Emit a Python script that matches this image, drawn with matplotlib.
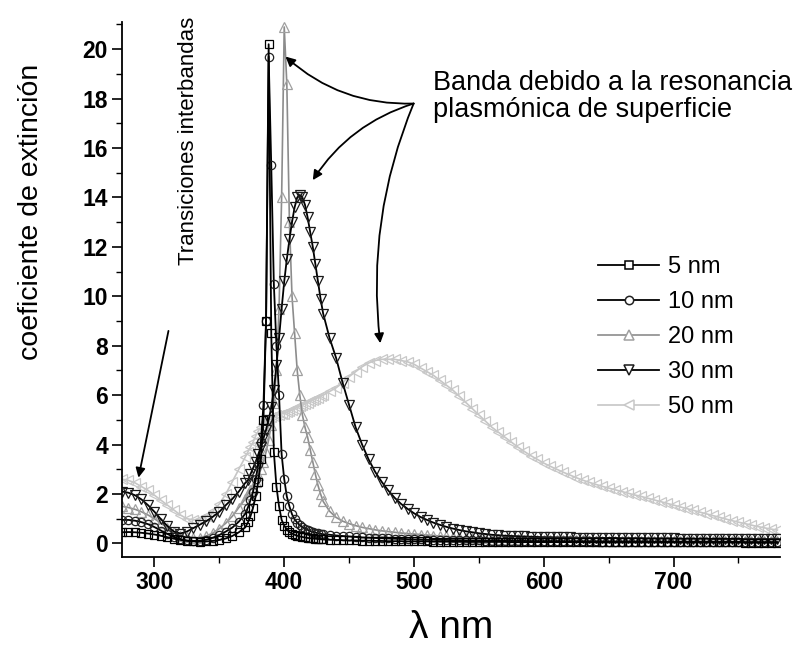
import matplotlib
matplotlib.use("Agg")
import matplotlib.pyplot as plt
from matplotlib.ticker import MultipleLocator
from matplotlib.lines import Line2D
from matplotlib.legend_handler import HandlerLine2D

plt.rcParams['font.family'] = ['Liberation Sans', 'DejaVu Sans']

# Wavelength sampling grid (nm)
wavelength = list(range(275, 371, 5)) + list(range(372, 431, 2)) + list(range(435, 781, 5))

ext_5nm = [0.45, 0.46, 0.45, 0.43, 0.40, 0.36, 0.31, 0.25, 0.19, 0.14, 0.10, 0.08, 0.07, 0.08, 0.10, 0.14, 0.20, 0.30, 0.45, 0.65,
           0.85, 1.10, 1.45, 1.90, 2.50, 3.40, 5.00, 9.00, 20.20, 8.50, 3.70, 2.30, 1.50, 0.95, 0.72, 0.56, 0.46, 0.40, 0.35, 0.31,
           0.28, 0.26, 0.24, 0.22, 0.21, 0.20, 0.19, 0.18, 0.17, 0.16,
           0.15, 0.14, 0.13, 0.12, 0.12, 0.11, 0.11, 0.10, 0.10, 0.09,
           0.09, 0.09, 0.08, 0.08, 0.08, 0.08, 0.07, 0.07, 0.07, 0.07,
           0.07, 0.06, 0.06, 0.06, 0.06, 0.06, 0.06, 0.06, 0.05, 0.05,
           0.05, 0.05, 0.05, 0.05, 0.05, 0.05, 0.05, 0.05, 0.05, 0.05,
           0.04, 0.04, 0.04, 0.04, 0.04, 0.04, 0.04, 0.04, 0.04, 0.04,
           0.04, 0.04, 0.04, 0.04, 0.04, 0.04, 0.04, 0.04, 0.04, 0.04,
           0.04, 0.04, 0.04, 0.04, 0.03, 0.03, 0.03, 0.03, 0.03, 0.03]

ext_10nm = [0.95, 0.95, 0.92, 0.86, 0.78, 0.66, 0.52, 0.38, 0.26, 0.17, 0.12, 0.10, 0.11, 0.15, 0.23, 0.34, 0.48, 0.64, 0.88, 1.20,
            1.45, 1.75, 2.10, 2.60, 3.20, 4.10, 5.60, 9.00, 19.70, 15.30, 10.50, 8.00, 6.00, 3.60, 2.60, 1.90, 1.50, 1.18, 0.98, 0.84,
            0.74, 0.66, 0.60, 0.55, 0.50, 0.47, 0.44, 0.41, 0.39, 0.37,
            0.35, 0.32, 0.30, 0.28, 0.26, 0.24, 0.23, 0.22, 0.21, 0.20,
            0.19, 0.18, 0.17, 0.16, 0.16, 0.15, 0.15, 0.14, 0.14, 0.13,
            0.13, 0.12, 0.12, 0.12, 0.11, 0.11, 0.11, 0.10, 0.10, 0.10,
            0.10, 0.09, 0.09, 0.09, 0.09, 0.09, 0.08, 0.08, 0.08, 0.08,
            0.08, 0.08, 0.07, 0.07, 0.07, 0.07, 0.07, 0.07, 0.07, 0.07,
            0.06, 0.06, 0.06, 0.06, 0.06, 0.06, 0.06, 0.06, 0.06, 0.06,
            0.06, 0.06, 0.06, 0.06, 0.05, 0.05, 0.05, 0.05, 0.05, 0.05]

ext_20nm = [1.50, 1.45, 1.38, 1.28, 1.15, 1.00, 0.82, 0.62, 0.45, 0.32, 0.24, 0.21, 0.23, 0.30, 0.42, 0.60, 0.82, 1.10, 1.45, 1.80,
            2.00, 2.15, 2.30, 2.50, 2.75, 3.00, 3.30, 3.70, 4.20, 4.80, 5.70, 7.00, 9.50, 14.00, 20.90, 18.60, 13.00, 10.00, 8.50, 7.00,
            6.00, 5.20, 4.70, 4.30, 3.80, 3.30, 2.80, 2.35, 2.00, 1.70,
            1.30, 1.05, 0.90, 0.80, 0.72, 0.65, 0.60, 0.55, 0.51, 0.48,
            0.45, 0.42, 0.40, 0.38, 0.36, 0.34, 0.32, 0.30, 0.28, 0.26,
            0.24, 0.23, 0.22, 0.21, 0.20, 0.19, 0.18, 0.17, 0.16, 0.16,
            0.15, 0.15, 0.14, 0.14, 0.13, 0.13, 0.13, 0.12, 0.12, 0.12,
            0.11, 0.11, 0.11, 0.11, 0.10, 0.10, 0.10, 0.10, 0.10, 0.10,
            0.09, 0.09, 0.09, 0.09, 0.09, 0.09, 0.09, 0.09, 0.09, 0.09,
            0.09, 0.09, 0.08, 0.08, 0.08, 0.08, 0.08, 0.08, 0.08, 0.08]

ext_30nm = [2.10, 2.05, 1.95, 1.78, 1.55, 1.28, 0.98, 0.70, 0.48, 0.40, 0.48, 0.62, 0.76, 0.90, 1.08, 1.28, 1.55, 1.80, 2.10, 2.45,
            2.55, 2.80, 3.05, 3.30, 3.60, 3.90, 4.25, 4.60, 5.00, 5.50, 6.20, 7.20, 8.30, 9.50, 10.60, 11.50, 12.30, 13.00, 13.60, 14.00,
            14.10, 14.00, 13.70, 13.20, 12.60, 12.00, 11.30, 10.60, 9.90, 9.30,
            8.30, 7.50, 6.50, 5.60, 4.70, 4.00, 3.40, 2.90, 2.50, 2.15,
            1.85, 1.60, 1.40, 1.22, 1.07, 0.95, 0.84, 0.75, 0.67, 0.60,
            0.54, 0.49, 0.45, 0.41, 0.38, 0.35, 0.33, 0.31, 0.30, 0.29,
            0.28, 0.27, 0.26, 0.25, 0.25, 0.24, 0.24, 0.24, 0.23, 0.23,
            0.23, 0.22, 0.22, 0.22, 0.22, 0.21, 0.21, 0.21, 0.21, 0.20,
            0.20, 0.20, 0.20, 0.20, 0.19, 0.19, 0.19, 0.19, 0.19, 0.18,
            0.18, 0.18, 0.18, 0.18, 0.17, 0.17, 0.17, 0.17, 0.17, 0.17]

ext_50nm = [2.60, 2.55, 2.45, 2.30, 2.15, 1.95, 1.75, 1.55, 1.35, 1.15, 1.00, 0.95, 0.98, 1.10, 1.30, 1.60, 2.00, 2.50, 3.00, 3.50,
            3.70, 3.90, 4.10, 4.35, 4.55, 4.70, 4.85, 4.95, 5.05, 5.10, 5.15, 5.20, 5.20, 5.25, 5.25, 5.30, 5.35, 5.40, 5.45, 5.50,
            5.55, 5.60, 5.65, 5.70, 5.75, 5.80, 5.85, 5.90, 5.95, 6.00,
            6.15, 6.30, 6.50, 6.75, 6.95, 7.15, 7.30, 7.40, 7.45, 7.45,
            7.45, 7.40, 7.35, 7.25, 7.10, 6.95, 6.80, 6.60, 6.40, 6.20,
            5.95, 5.70, 5.45, 5.20, 4.95, 4.70, 4.50, 4.30, 4.10, 3.90,
            3.72, 3.55, 3.40, 3.25, 3.12, 3.00, 2.88, 2.77, 2.66, 2.56,
            2.47, 2.39, 2.31, 2.24, 2.17, 2.10, 2.03, 1.96, 1.90, 1.83,
            1.76, 1.69, 1.62, 1.55, 1.48, 1.41, 1.34, 1.27, 1.20, 1.13,
            1.06, 0.99, 0.92, 0.86, 0.80, 0.74, 0.68, 0.63, 0.58, 0.54]

labels = ["5 nm", "10 nm", "20 nm", "30 nm", "50 nm"]
x_ticks = [300, 400, 500, 600, 700]
y_ticks = [0, 2, 4, 6, 8, 10, 12, 14, 16, 18, 20]

fig = plt.figure(figsize=(8.03, 6.54), dpi=100)
ax = fig.add_axes([122 / 803, 1 - 557 / 654, (780 - 122) / 803, (557 - 22) / 654])

styles = {
    "5 nm":  dict(color="black", marker="s", ms=5.5, lw=1.3, mec="black"),
    "10 nm": dict(color="black", marker="o", ms=6, lw=1.3, mec="#222222"),
    "20 nm": dict(color="#8c8c8c", marker="^", ms=6.5, lw=1.2, mec="#a0a0a0"),
    "30 nm": dict(color="black", marker="v", ms=7, lw=1.3, mec="#1a1a1a"),
    "50 nm": dict(color="#c6c6c6", marker="<", ms=7, lw=1.2, mec="#c8c8c8"),
}
series = {"5 nm": ext_5nm, "10 nm": ext_10nm, "20 nm": ext_20nm, "30 nm": ext_30nm, "50 nm": ext_50nm}

handles = {}
for lab in ["50 nm", "20 nm", "30 nm", "10 nm", "5 nm"]:
    st = styles[lab]
    h, = ax.plot(wavelength, series[lab], color=st["color"], lw=st["lw"], marker=st["marker"],
                 ms=st["ms"], mfc="none", mec=st["mec"], mew=0.9, label=lab)
    handles[lab] = h

ax.set_xlim(275, 782)
ax.set_ylim(-0.55, 21.1)
ax.set_xticks(x_ticks)
ax.set_yticks(y_ticks)
ax.xaxis.set_minor_locator(MultipleLocator(50))
ax.yaxis.set_minor_locator(MultipleLocator(1))
for s in ["top", "right"]:
    ax.spines[s].set_visible(False)
for s in ["left", "bottom"]:
    ax.spines[s].set_linewidth(1.3)
ax.tick_params(which="major", direction="out", length=7, width=1.2, pad=3)
ax.tick_params(which="minor", direction="out", length=4, width=1.0)
for t in ax.get_xticklabels() + ax.get_yticklabels():
    t.set_fontsize(16.5)
    t.set_fontweight("bold")

fig.text(31 / 803, 1 - 212 / 654, "coeficiente de extinción", rotation=90, fontsize=20.5,
         ha="center", va="center")
fig.text(451 / 803, 1 - 628 / 654, "λ nm", fontsize=28, ha="center", va="center")


def legend_update(legend_handle, orig_handle):
    legend_handle.update_from(orig_handle)
    legend_handle.set_markerfacecolor("white")
    legend_handle.set_markeredgewidth(1.1)


leg = ax.legend([handles[l] for l in labels], labels, loc="upper left",
                bbox_to_anchor=(598 / 803, 1 - 256 / 654), bbox_transform=fig.transFigure,
                frameon=False, fontsize=17, handlelength=2.6, handletextpad=0.35,
                labelspacing=0.55, borderpad=0, borderaxespad=0,
                handler_map={Line2D: HandlerLine2D(update_func=legend_update)})

ax.text(515, 18.1, "Banda debido a la resonancia\nplasmónica de superficie", fontsize=19.5,
        ha="left", va="center", linespacing=1.05)
ax.text(326, 16.3, "Transiciones interbandas", rotation=90, fontsize=16, ha="center", va="center")

arrow_kw = dict(arrowstyle="-|>", color="black", lw=1.3, mutation_scale=14, shrinkA=0, shrinkB=0)
hub = (499.7, 17.8)
ax.annotate("", xy=(401, 19.7), xytext=hub, arrowprops=dict(connectionstyle="arc3,rad=-0.2", **arrow_kw))
ax.annotate("", xy=(422, 14.7), xytext=hub, arrowprops=dict(connectionstyle="arc3,rad=0.18", **arrow_kw))
ax.annotate("", xy=(474, 8.1), xytext=hub, arrowprops=dict(connectionstyle="arc3,rad=0.13", **arrow_kw))
ax.annotate("", xy=(287.7, 2.66), xytext=(310.8, 8.6), arrowprops=dict(connectionstyle="arc3,rad=0", **arrow_kw))

fig.savefig("out.png", dpi=100)
